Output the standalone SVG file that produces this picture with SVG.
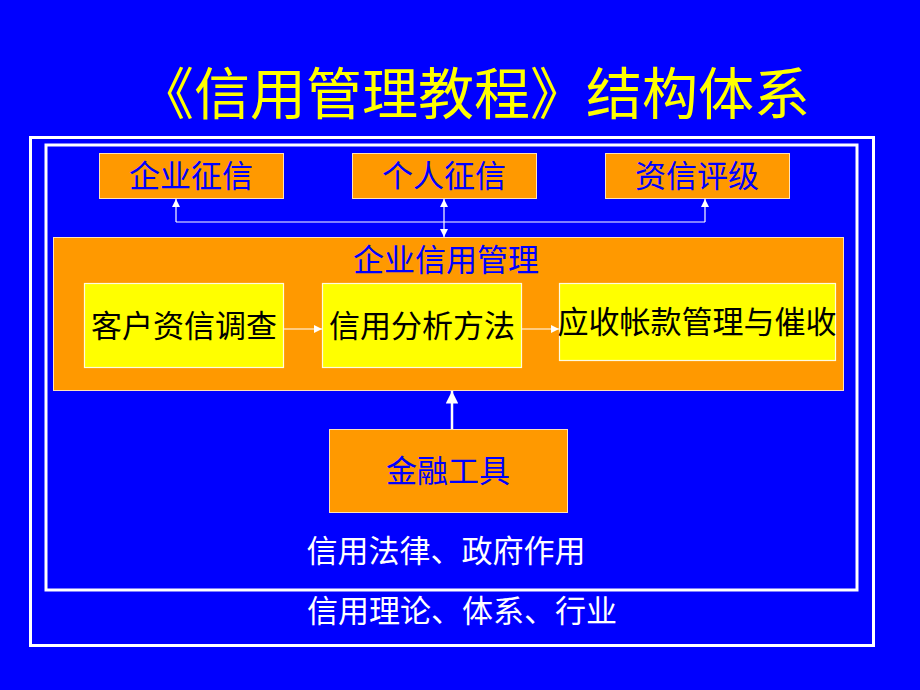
<svg xmlns="http://www.w3.org/2000/svg" width="920" height="690" viewBox="0 0 920 690">
  <defs>
    <marker id="ah" viewBox="0 0 10 10" refX="10" refY="5" markerWidth="8" markerHeight="8" markerUnits="userSpaceOnUse" orient="auto-start-reverse">
      <path d="M0,0 L10,5 L0,10 z" fill="#ffffff"/>
    </marker>
    <marker id="ah2" viewBox="0 0 10 10" refX="10" refY="5" markerWidth="5" markerHeight="5" orient="auto">
      <path d="M0,0 L10,5 L0,10 z" fill="#ffffff"/>
    </marker>
  </defs>
  <style>
    text { font-family: "Noto Sans CJK SC", "Noto Sans CJK TC", sans-serif; font-size: 31px; text-anchor: middle; }
    .frame { fill: none; stroke: #ffffff; stroke-width: 3; }
    .orange { fill: #ff9900; stroke: #ffe2b8; stroke-width: 1; }
    .yellow { fill: #ffff00; stroke: #fffbe0; stroke-width: 1.2; }
    .blue { fill: #0000ff; }
    .black { fill: #000000; }
    .white { fill: #ffffff; }
    .conn { fill: none; stroke: #ffffff; stroke-width: 1.2; }
  </style>
  <rect x="0" y="0" width="920" height="690" fill="#0000ff"/>
  <g id="title">
    <text x="474" y="114" style="font-size:56px" fill="#ffff00">《信用管理教程》结构体系</text>
  </g>
  <g id="frame-outer">
    <rect class="frame" x="30.5" y="137.5" width="843" height="508"/>
    <text class="white" x="462" y="622">信用理论、体系、行业</text>
  </g>
  <g id="frame-inner">
    <rect class="frame" x="46" y="145" width="811" height="445"/>
    <text class="white" x="446" y="562">信用法律、政府作用</text>
  </g>
  <g id="qiye-zhengxin">
    <rect class="orange" x="99.5" y="153.5" width="184" height="45"/>
    <text class="blue" x="191" y="187">企业征信</text>
  </g>
  <g id="geren-zhengxin">
    <rect class="orange" x="352.5" y="153.5" width="184" height="45"/>
    <text class="blue" x="444" y="187">个人征信</text>
  </g>
  <g id="zixin-pingji">
    <rect class="orange" x="605.5" y="153.5" width="184" height="45"/>
    <text class="blue" x="697" y="187">资信评级</text>
  </g>
  <g id="qiye-xinyong-guanli">
    <rect class="orange" x="53.5" y="237.5" width="790" height="153"/>
    <text class="blue" x="446" y="271">企业信用管理</text>
  </g>
  <g id="kehu-zixin-diaocha">
    <rect class="yellow" x="84.5" y="283.5" width="199" height="84"/>
    <text class="black" x="184" y="337">客户资信调查</text>
  </g>
  <g id="xinyong-fenxi-fangfa">
    <rect class="yellow" x="322.5" y="283.5" width="199" height="84"/>
    <text class="black" x="422" y="337">信用分析方法</text>
  </g>
  <g id="yingshou-zhangkuan">
    <rect class="yellow" x="559.5" y="283.5" width="276" height="77"/>
    <text class="black" x="697" y="333">应收帐款管理与催收</text>
  </g>
  <g id="jinrong-gongju">
    <rect class="orange" x="329.5" y="429.5" width="238" height="83"/>
    <text class="blue" x="448" y="482">金融工具</text>
  </g>
  <g id="connectors">
    <path class="conn" d="M176,222 H705"/>
    <path class="conn" d="M176,222 V199" marker-end="url(#ah)"/>
    <path class="conn" d="M705,222 V199" marker-end="url(#ah)"/>
    <path class="conn" d="M444,199 V237" marker-start="url(#ah)" marker-end="url(#ah)"/>
    <path class="conn" d="M284,329 H322" marker-end="url(#ah)"/>
    <path class="conn" d="M522,329 H559" marker-end="url(#ah)"/>
    <path fill="none" stroke="#ffffff" stroke-width="2.5" d="M452,429 V391" marker-end="url(#ah2)"/>
  </g>
</svg>
